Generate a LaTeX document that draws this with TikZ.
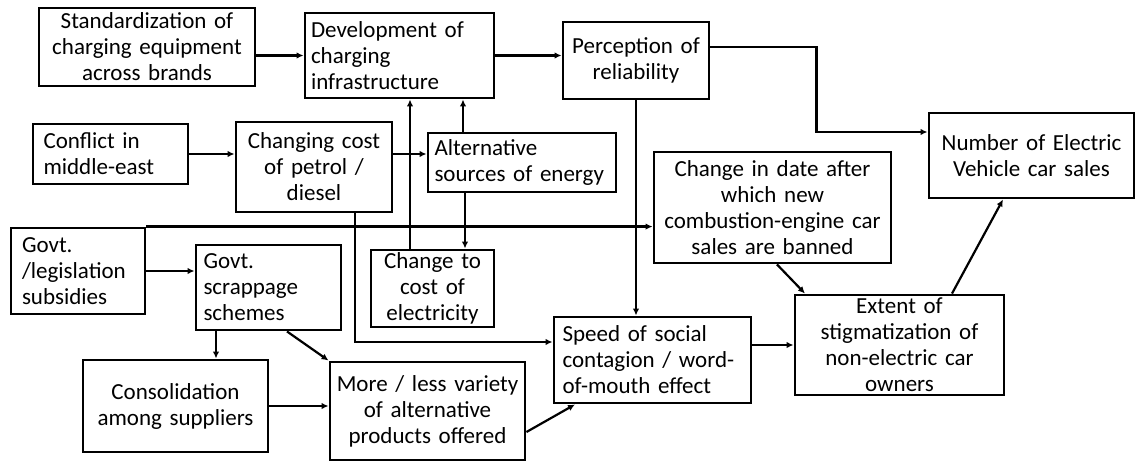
\documentclass[tikz,border=0pt]{standalone}
\usepackage{fontspec}
\setmainfont{Carlito}
\usetikzlibrary{arrows.meta}
\begin{document}
\begin{tikzpicture}[x=1pt,y=-1pt,
  box/.style={draw=black, line width=2.9pt, font=\fontsize{23}{26}\selectfont, inner ysep=0pt},
  arr/.style={draw=black, line width=2.2pt, -{Latex[length=7pt,width=6.5pt]}}]
\useasboundingbox[fill=white] (0,0) rectangle (1137,464);

\node[box, minimum width=216pt, minimum height=78pt, text width=208pt, inner xsep=4pt, align=center] (std) at (147,47) {Standardization of\\charging equipment\\across brands};
\node[box, minimum width=189pt, minimum height=85pt, text width=177pt, inner xsep=6pt, align=left] (dev) at (399.5,55.5) {Development of\\charging\\infrastructure};
\node[box, minimum width=146pt, minimum height=77pt, text width=138pt, inner xsep=4pt, align=center] (per) at (636,60.5) {Perception of\\reliability};
\node[box, minimum width=205pt, minimum height=85pt, text width=197pt, inner xsep=4pt, align=center] (num) at (1031.5,155.5) {Number of Electric\\Vehicle car sales};
\node[box, minimum width=155pt, minimum height=60pt, text width=134pt, inner xsep=10.5pt, align=left] (con) at (110.5,154) {Conflict in\\middle-east};
\node[box, minimum width=156pt, minimum height=90pt, text width=148pt, inner xsep=4pt, align=center] (cc) at (314,167) {Changing cost\\of petrol /\\diesel};
\node[box, minimum width=188pt, minimum height=59pt, text width=175pt, inner xsep=6.5pt, align=left] (alt) at (522,162.5) {Alternative\\sources of energy};
\node[box, minimum width=237pt, minimum height=111pt, text width=229pt, inner xsep=4pt, align=center] (date) at (772.5,207.5) {Change in date after\\which new\\combustion-engine car\\sales are banned};
\node[box, minimum width=134pt, minimum height=86pt, text width=112pt, inner xsep=11pt, align=left] (gov) at (78,271) {Govt.\\/legislation\\subsidies};
\node[box, minimum width=145pt, minimum height=85pt, text width=130pt, inner xsep=7.5pt, align=left] (scr) at (268.5,287.5) {Govt.\\scrappage\\schemes};
\node[box, minimum width=123pt, minimum height=77pt, text width=115pt, inner xsep=4pt, align=center] (ele) at (432.5,288.5) {Change to\\cost of\\electricity};
\node[box, minimum width=185pt, minimum height=92pt, text width=177pt, inner xsep=4pt, align=center] (cons) at (175.5,406) {Consolidation\\among suppliers};
\node[box, minimum width=195pt, minimum height=98pt, text width=187pt, inner xsep=4pt, align=center] (var) at (427.5,411) {More / less variety\\of alternative\\products offered};
\node[box, minimum width=197pt, minimum height=86pt, text width=180pt, inner xsep=8.5pt, align=left] (spd) at (652.5,360) {Speed of social\\contagion / word-\\of-mouth effect};
\node[box, minimum width=209pt, minimum height=100pt, text width=201pt, inner xsep=4pt, align=center] (ext) at (899.5,345) {Extent of\\stigmatization of\\non-electric car\\owners};

\draw[arr] (std.east |- dev.west) -- (dev.west);
\draw[arr] (dev.east) -- (dev.east -| per.west);
\draw[arr] (per.east |- 0,47) -| (816.5,132) -- (num.west |- 0,132);
\draw[arr] (con.east) -- (con.east -| cc.west);
\draw[arr] (cc.east |- 0,154) -- (alt.west |- 0,154);
\draw[arr] (ele.north -| 410,0) -- (dev.south -| 410,0);
\draw[arr] (alt.north -| 463,0) -- (dev.south -| 463,0);
\draw[arr] (alt.south -| 465,0) -- (ele.north -| 465,0);
\draw[arr] (cc.south -| 355,0) |- (spd.west |- 0,342);
\draw[arr] (gov.north east) -- (date.west |- gov.north);
\draw[arr] (gov.east) -- (gov.east -| scr.west);
\draw[arr] (scr.south -| 216,0) -- (cons.north -| 216,0);
\draw[arr] (scr.south -| 287,0) -- (var.north west);
\draw[arr] (cons.east) -- (cons.east -| var.west);
\draw[arr] (var.east |- 0,432) -- (spd.south -| 575,0);
\draw[arr] (per.south) -- (per.south |- spd.north);
\draw[arr] (date.south -| 777,0) -- (ext.north -| 805,0);
\draw[arr] (spd.east |- ext.west) -- (ext.west);
\draw[arr] (ext.north -| 952,0) -- (num.south -| 1003,0);
\end{tikzpicture}
\end{document}
